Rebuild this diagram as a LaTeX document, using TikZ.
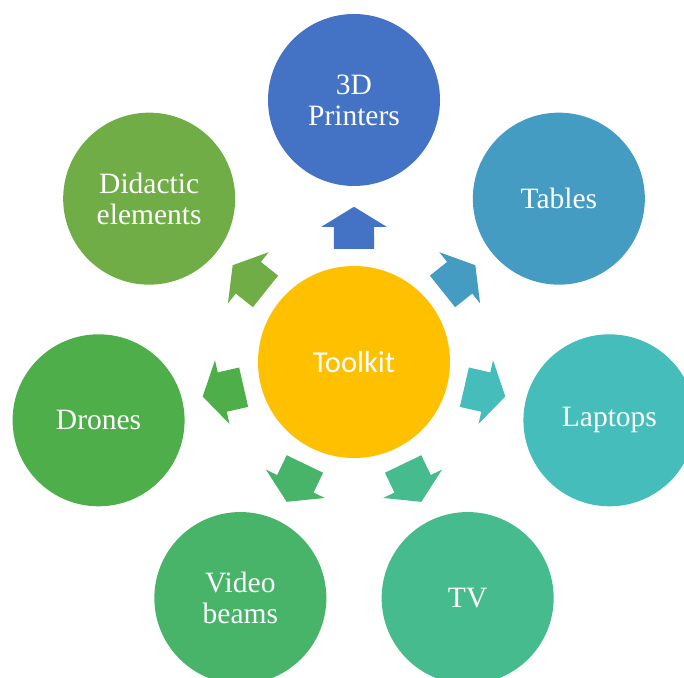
\documentclass[tikz,border=0pt]{standalone}
\usepackage{fontspec}
\setmainfont{Liberation Serif}
\newfontfamily\hubfont{Carlito}
\usepackage{xcolor}
\usetikzlibrary{calc,shapes.arrows}

\definecolor{hubgold}{HTML}{FFC000}
\definecolor{printblue}{HTML}{4472C4}
\definecolor{tableblue}{HTML}{449CC2}
\definecolor{laptopteal}{HTML}{45BDBA}
\definecolor{tvgreen}{HTML}{45BB8E}
\definecolor{beamgreen}{HTML}{48B469}
\definecolor{dronegreen}{HTML}{4EAF4A}
\definecolor{didacticgreen}{HTML}{70AD47}

\begin{document}
\begin{tikzpicture}[hub/.style={circle, fill=hubgold, minimum size=192pt, inner sep=0pt, text=white, font=\hubfont\fontsize{30.5}{32}\selectfont}, spoke/.style={circle, minimum size=172pt, inner sep=0pt, align=center, text=white, font=\fontsize{29.5}{31}\selectfont}, pointer/.style={single arrow, draw=none, inner xsep=0pt, inner ysep=20pt, minimum height=42pt, single arrow head extend=12.5pt, single arrow tip angle=117, anchor=tail}]
\clip (0,0) rectangle (684pt,677pt);
\useasboundingbox (0,0) rectangle (684pt,677pt);
\node[hub] (toolkit) at (354pt,315pt) {Toolkit};
\node[spoke, fill=printblue] (printers) at ($(toolkit)+(90:262pt)$) {3D\\Printers};
\node[spoke, fill=tableblue] (tables) at ($(toolkit)+(38.57:262pt)$) {Tables};
\node[spoke, fill=laptopteal] (laptops) at ($(toolkit)+(-12.86:262pt)$) {Laptops};
\node[spoke, fill=tvgreen] (tv) at ($(toolkit)+(-64.29:262pt)$) {TV};
\node[spoke, fill=beamgreen] (beams) at ($(toolkit)+(-115.71:262pt)$) {Video\\beams};
\node[spoke, fill=dronegreen] (drones) at ($(toolkit)+(-167.14:262pt)$) {Drones};
\node[spoke, fill=didacticgreen] (didactic) at ($(toolkit)+(141.43:262pt)$) {Didactic\\elements};
% block arrows from the hub
\node[pointer, fill=printblue, rotate=90] (to-printers) at ($(toolkit)!113pt!(printers)$) {};
\node[pointer, fill=tableblue, rotate=38.57] (to-tables) at ($(toolkit)!113pt!(tables)$) {};
\node[pointer, fill=laptopteal, rotate=-12.86] (to-laptops) at ($(toolkit)!113pt!(laptops)$) {};
\node[pointer, fill=tvgreen, rotate=-64.29] (to-tv) at ($(toolkit)!113pt!(tv)$) {};
\node[pointer, fill=beamgreen, rotate=-115.71] (to-beams) at ($(toolkit)!113pt!(beams)$) {};
\node[pointer, fill=dronegreen, rotate=-167.14] (to-drones) at ($(toolkit)!113pt!(drones)$) {};
\node[pointer, fill=didacticgreen, rotate=141.43] (to-didactic) at ($(toolkit)!113pt!(didactic)$) {};
\end{tikzpicture}
\end{document}
